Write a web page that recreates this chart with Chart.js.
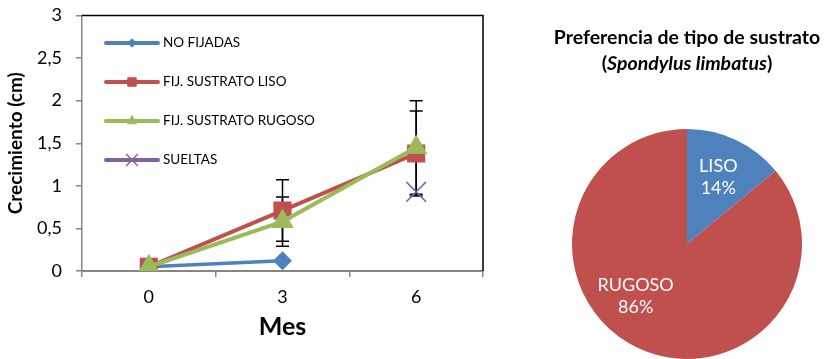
<!DOCTYPE html>
<html lang="es">
<head>
  <meta charset="UTF-8" />
  <title>Crecimiento y preferencia de sustrato</title>
  <script src="https://cdn.jsdelivr.net/npm/chart.js"></script>
  <style>
    body {
      margin: 0;
      padding: 0;
      background: #ffffff;
      width: 828px;
      height: 359px;
      overflow: hidden;
      font-family: Lato, sans-serif;
    }
    #lineBox {
      position: absolute;
      left: 0;
      top: 0;
      width: 500px;
      height: 359px;
    }
    #pieBox {
      position: absolute;
      left: 500px;
      top: 0;
      width: 328px;
      height: 359px;
    }
  </style>
</head>
<body>
  <div id="lineBox"><canvas id="lineChart" width="500" height="359"></canvas></div>
  <div id="pieBox"><canvas id="pieChart" width="328" height="359"></canvas></div>

  <script>
    // --- datos: crecimiento ---
    const meses = ["0", "3", "6"];
    const noFijadas = [0.05, 0.12, null];
    const fijLiso = [0.05, 0.71, 1.38];
    const fijRugoso = [0.05, 0.58, 1.45];
    const sueltas = [null, null, 0.93];
    // desviación (barras de error)
    const errLiso = [0, 0.36, 0.5];
    const errRugoso = [0, 0.29, 0.55];
    const yTicks = [0, 0.5, 1, 1.5, 2, 2.5, 3];

    // --- datos: preferencia de sustrato ---
    const sustratos = ["LISO", "RUGOSO"];
    const preferencia = [14, 86];

    const FONT = "Lato, 'Open Sans', sans-serif";
    const azul = "#4F81BD", rojo = "#C0504D", verde = "#9BBB59", morado = "#8064A2";

    const errorBars = {
      id: "errorBars",
      beforeDatasetsDraw(chart) {
        const { ctx, scales } = chart;
        ctx.save();
        ctx.strokeStyle = "#000";
        ctx.lineWidth = 1.5;
        chart.data.datasets.forEach(ds => {
          if (!ds.errores) return;
          ds.data.forEach((v, i) => {
            const e = ds.errores[i];
            if (v == null || !e) return;
            const x = scales.x.getPixelForValue(i);
            const yt = scales.y.getPixelForValue(v + e);
            const yb = scales.y.getPixelForValue(v - e);
            ctx.beginPath();
            ctx.moveTo(x, yt); ctx.lineTo(x, yb);
            ctx.moveTo(x - 6.5, yt); ctx.lineTo(x + 6.5, yt);
            ctx.moveTo(x - 6.5, yb); ctx.lineTo(x + 6.5, yb);
            ctx.stroke();
          });
        });
        ctx.restore();
      }
    };

    const frameAndLegend = {
      id: "frameAndLegend",
      afterDraw(chart) {
        const { ctx, chartArea: a } = chart;
        ctx.save();
        // borde superior y derecho
        ctx.strokeStyle = "#000";
        ctx.lineWidth = 1.5;
        ctx.beginPath();
        ctx.moveTo(a.left, a.top);
        ctx.lineTo(a.right, a.top);
        ctx.lineTo(a.right, a.bottom);
        ctx.stroke();

        // leyenda dentro del área
        chart.data.datasets.forEach((ds, row) => {
          const y = 43 + row * 39;
          ctx.strokeStyle = ds.borderColor;
          ctx.lineWidth = 4;
          ctx.lineCap = "round";
          ctx.beginPath();
          ctx.moveTo(106, y);
          ctx.lineTo(158, y);
          ctx.stroke();
          ctx.lineCap = "butt";
          ctx.fillStyle = ds.pointBackgroundColor;
          ctx.strokeStyle = ds.pointBorderColor;
          ctx.lineWidth = ds.pointBorderWidth || 1;
          Chart.helpers.drawPoint(ctx, {
            pointStyle: ds.pointStyle,
            radius: ds.pointRadius * 0.6,
            borderWidth: ds.pointBorderWidth || 1
          }, 132, y);
          ctx.fillStyle = "#000";
          ctx.font = "13.5px " + FONT;
          ctx.textBaseline = "middle";
          ctx.textAlign = "left";
          ctx.fillText(ds.label, 163, y);
        });
        ctx.restore();
      }
    };

    new Chart(document.getElementById("lineChart").getContext("2d"), {
      type: "line",
      data: {
        labels: meses,
        datasets: [
          {
            label: "NO FIJADAS",
            data: noFijadas,
            borderColor: azul,
            backgroundColor: azul,
            pointBackgroundColor: azul,
            pointBorderColor: azul,
            pointStyle: "rectRot",
            pointRadius: 7,
            borderWidth: 3.5,
            order: 4
          },
          {
            label: "FIJ. SUSTRATO LISO",
            data: fijLiso,
            errores: errLiso,
            borderColor: rojo,
            backgroundColor: rojo,
            pointBackgroundColor: rojo,
            pointBorderColor: rojo,
            pointStyle: "rect",
            pointRadius: 10,
            borderWidth: 4,
            order: 3
          },
          {
            label: "FIJ. SUSTRATO RUGOSO",
            data: fijRugoso,
            errores: errRugoso,
            borderColor: verde,
            backgroundColor: verde,
            pointBackgroundColor: verde,
            pointBorderColor: verde,
            pointStyle: "triangle",
            pointRadius: 9,
            borderWidth: 4,
            order: 2
          },
          {
            label: "SUELTAS",
            data: sueltas,
            borderColor: morado,
            backgroundColor: morado,
            pointBackgroundColor: morado,
            pointBorderColor: morado,
            pointStyle: "crossRot",
            pointRadius: 14,
            pointBorderWidth: 1.5,
            borderWidth: 4,
            order: 1
          }
        ]
      },
      options: {
        responsive: false,
        animation: false,
        spanGaps: false,
        layout: { padding: { left: 0, top: 14, right: 17, bottom: 0 } },
        plugins: {
          legend: { display: false },
          tooltip: { enabled: false }
        },
        scales: {
          x: {
            offset: true,
            afterFit: s => { s.height = 88; },
            grid: {
              offset: true,
              drawOnChartArea: false,
              tickLength: 6,
              color: "#868686",
              lineWidth: 1.5
            },
            border: { color: "#868686", width: 2 },
            ticks: {
              color: "#000",
              font: { family: FONT, size: 18 },
              padding: 9
            },
            title: {
              display: true,
              text: "Mes",
              color: "#000",
              font: { family: FONT, size: 25, weight: "bold" },
              padding: { top: 4, bottom: 17 }
            }
          },
          y: {
            min: 0,
            max: 3,
            afterFit: s => {
              s.width = 82;
              s.paddingTop = 0;
              s.paddingBottom = 0;
            },
            afterBuildTicks: s => { s.ticks = yTicks.map(v => ({ value: v })); },
            grid: {
              drawOnChartArea: false,
              tickLength: 6,
              color: "#868686",
              lineWidth: 1.5
            },
            border: { color: "#868686", width: 1.5 },
            ticks: {
              color: "#000",
              font: { family: FONT, size: 18 },
              padding: 14,
              callback: v => String(v).replace(".", ",")
            },
            title: {
              display: true,
              text: "Crecimiento (cm)",
              color: "#000",
              font: { family: FONT, size: 19, weight: "bold" },
              padding: { top: 4, bottom: 0 }
            }
          }
        }
      },
      plugins: [errorBars, frameAndLegend]
    });

    // --- pastel ---
    const pieTitleAndLabels = {
      id: "pieTitleAndLabels",
      afterDraw(chart) {
        const { ctx } = chart;
        ctx.save();
        ctx.fillStyle = "#000";
        ctx.textBaseline = "middle";
        ctx.textAlign = "center";
        ctx.font = "bold 19.5px " + FONT;
        ctx.fillText("Preferencia de tipo de sustrato", 187, 38);

        // segunda línea con cursiva
        const partes = [
          { t: "(", f: "bold 19.5px " + FONT },
          { t: "Spondylus limbatus", f: "italic bold 19.5px " + FONT },
          { t: ")", f: "bold 19.5px " + FONT }
        ];
        let total = 0;
        partes.forEach(p => { ctx.font = p.f; total += ctx.measureText(p.t).width; });
        let x = 187 - total / 2;
        ctx.textAlign = "left";
        partes.forEach(p => {
          ctx.font = p.f;
          ctx.fillText(p.t, x, 64);
          x += ctx.measureText(p.t).width;
        });

        // etiquetas de sectores
        const meta = chart.getDatasetMeta(0);
        const desplaz = [[0, 0], [-20, -14]];
        ctx.fillStyle = "#fff";
        ctx.textAlign = "center";
        ctx.font = "18px " + FONT;
        meta.data.forEach((arc, i) => {
          const mid = (arc.startAngle + arc.endAngle) / 2;
          const r = arc.outerRadius * 0.64;
          const cx = arc.x + Math.cos(mid) * r + desplaz[i][0];
          const cy = arc.y + Math.sin(mid) * r + desplaz[i][1];
          ctx.fillText(chart.data.labels[i], cx, cy - 11);
          ctx.fillText(preferencia[i] + "%", cx, cy + 11);
        });
        ctx.restore();
      }
    };

    new Chart(document.getElementById("pieChart").getContext("2d"), {
      type: "pie",
      data: {
        labels: sustratos,
        datasets: [{
          data: preferencia,
          backgroundColor: [azul, rojo],
          borderWidth: 0
        }]
      },
      options: {
        responsive: false,
        animation: false,
        layout: { padding: { left: 72, right: 26, top: 129, bottom: 0 } },
        plugins: {
          legend: { display: false },
          tooltip: { enabled: false }
        }
      },
      plugins: [pieTitleAndLabels]
    });
  </script>
</body>
</html>
